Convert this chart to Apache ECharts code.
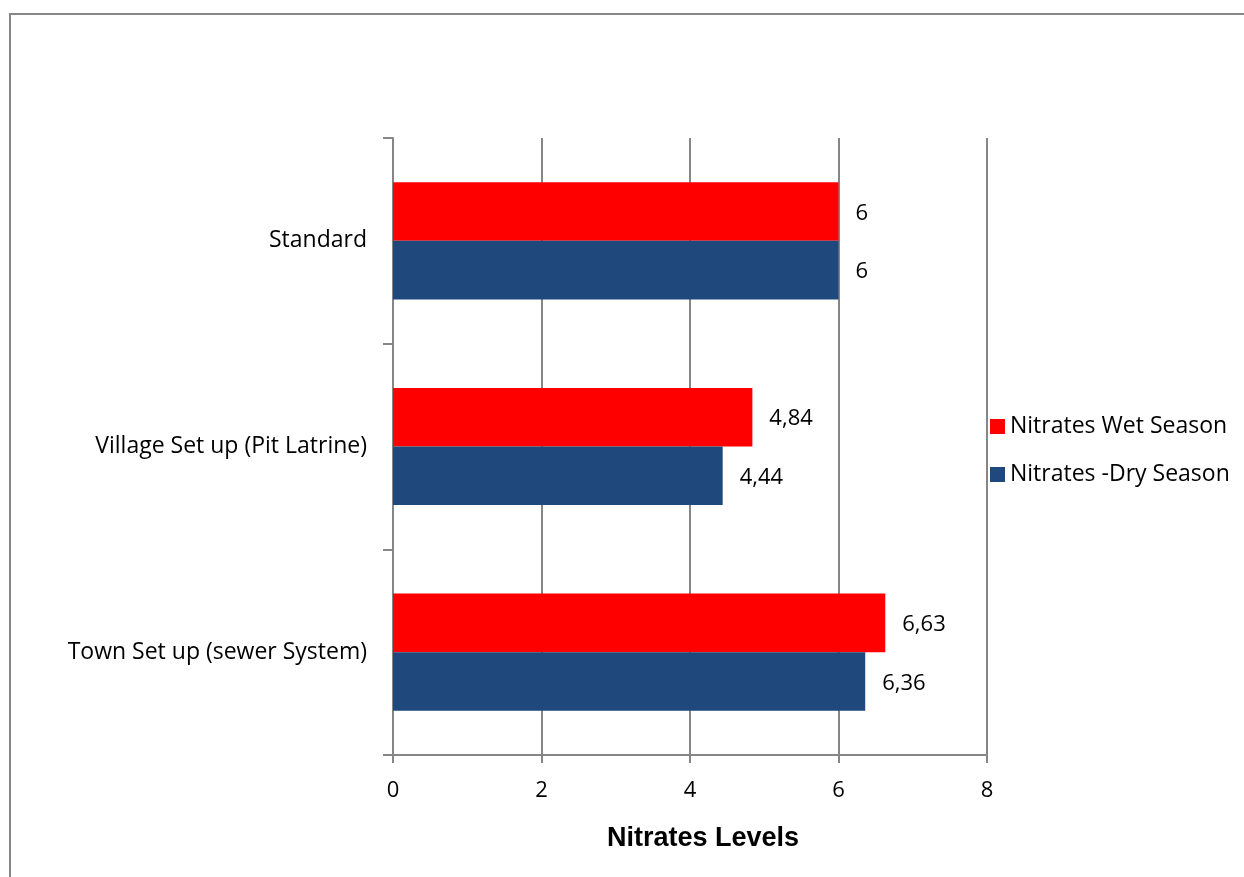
<!DOCTYPE html>
<html>
<head>
<meta charset="utf-8">
<script src="https://cdn.jsdelivr.net/npm/echarts@6/dist/echarts.min.js"></script>
<style>
  html, body { margin: 0; padding: 0; background: #fff; }
  #chart { width: 1244px; height: 877px; }
</style>
</head>
<body>
<div id="chart"></div>
<script>
const categories = ['Standard', 'Village Set up (Pit Latrine)', 'Town Set up (sewer System)']
const wetSeason = [6, 4.84, 6.63]
const drySeason = [6, 4.44, 6.36]
const seriesNames = ['Nitrates Wet Season', 'Nitrates -Dry Season']
const axisTitle = 'Nitrates Levels'

const FONT = 'Open Sans'
const GREY = '#868686'

const chart = echarts.init(document.getElementById('chart'))

// 数值标签用逗号作小数点
const fmt = p => String(p.value).replace('.', ',')

const barLabel = {
  show: true,
  position: 'right',
  distance: 17,
  offset: [0, 2],
  color: '#000',
  fontFamily: FONT,
  fontSize: 22,
  formatter: fmt
}

chart.setOption({
  animation: false,
  graphic: [{
    type: 'rect',
    shape: { x: 10, y: 14, width: 1300, height: 900 },
    style: { fill: 'none', stroke: GREY, lineWidth: 2 }
  }],
  grid: { left: 393, right: 257, top: 138, bottom: 122, containLabel: false },
  legend: {
    orient: 'vertical',
    left: 985,
    top: 410,
    icon: 'rect',
    itemWidth: 15,
    itemHeight: 15,
    itemGap: 25,
    textStyle: { fontFamily: FONT, fontSize: 23, color: '#000' },
    data: seriesNames
  },
  xAxis: {
    type: 'value',
    min: 0,
    max: 8,
    interval: 2,
    name: axisTitle,
    nameLocation: 'middle',
    nameGap: 70,
    nameTextStyle: {
      fontFamily: 'Liberation Sans', fontWeight: 'bold', fontSize: 27, color: '#000',
      padding: [0, 0, 0, 26]
    },
    axisLine: { show: true, lineStyle: { color: GREY, width: 2 } },
    axisTick: { show: true, length: 8, lineStyle: { color: GREY, width: 2 } },
    axisLabel: { color: '#000', fontFamily: FONT, fontSize: 22, margin: 25 },
    splitLine: { show: true, lineStyle: { color: GREY, width: 2 } }
  },
  yAxis: {
    type: 'category',
    inverse: true,
    data: categories,
    axisLine: { show: true, lineStyle: { color: GREY, width: 2 } },
    axisTick: { show: true, length: 10, lineStyle: { color: GREY, width: 2 } },
    axisLabel: { color: '#000', fontFamily: FONT, fontSize: 23, margin: 26 },
    splitLine: { show: false }
  },
  series: [
    {
      name: seriesNames[0],
      type: 'bar',
      data: wetSeason,
      itemStyle: { color: '#FF0000' },
      barGap: '0%',
      barCategoryGap: '43%',
      label: barLabel
    },
    {
      name: seriesNames[1],
      type: 'bar',
      data: drySeason,
      itemStyle: { color: '#1F497D' },
      label: barLabel
    }
  ]
})
</script>
</body>
</html>
